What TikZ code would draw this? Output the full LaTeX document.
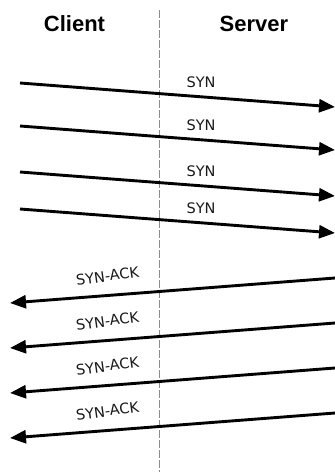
\documentclass[tikz,border=0pt]{standalone}
\usepackage{fontspec}
\setmainfont{DejaVu Sans}
\newfontfamily\headfont{Liberation Sans}
\usetikzlibrary{arrows.meta}

\begin{document}
\begin{tikzpicture}[x=1pt,y=-1pt,
    msg/.style={line width=2.9pt,-{Triangle[length=16pt,width=13pt]}},
    lbl/.style={inner sep=0pt,font=\fontsize{14.5}{15}\selectfont,text=black!90},
    head/.style={inner sep=0pt,font=\headfont\bfseries\fontsize{22}{24}\selectfont}]
  \useasboundingbox (0,0) rectangle (335,472);
  \draw[black!45,line width=0.9pt,dash pattern=on 8pt off 2pt] (159,10) -- (159,472);
  \node[head] (client) at (74.5,24) {Client};
  \node[head] (server) at (254,24) {Server};
  % client -> server
  \foreach \i/\y in {1/83,2/126,3/172,4/209}{
    \coordinate (c\i) at (20,\y);
    \coordinate (s\i) at (335,\y+24);
    \draw[msg] (c\i) -- (s\i);
    \node[lbl] (syn\i) at (201,\y-1) {SYN};
  }
  % server -> client
  \foreach \i/\y in {1/303,2/348,3/393,4/438}{
    \coordinate (sa\i) at (335,\y-25);
    \coordinate (ca\i) at (10,\y);
    \draw[msg] (sa\i) -- (ca\i);
    \node[lbl,rotate=8] (ack\i) at (107.5,\y-27) {SYN-ACK};
  }
\end{tikzpicture}
\end{document}
